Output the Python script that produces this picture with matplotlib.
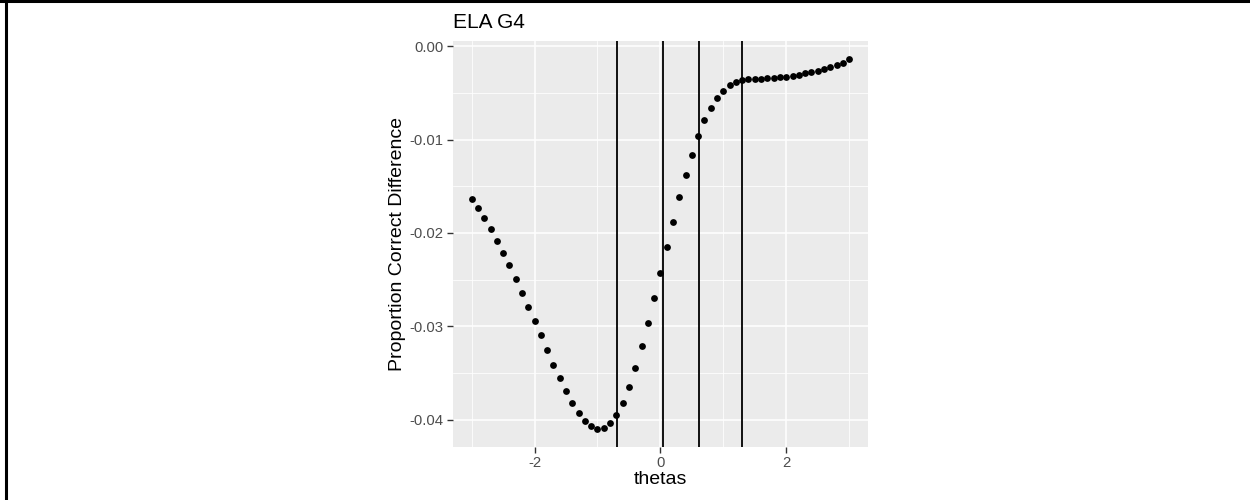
import numpy as np
import matplotlib
matplotlib.use("Agg")
import matplotlib.pyplot as plt
from matplotlib.ticker import MultipleLocator, FixedLocator, FuncFormatter
from matplotlib.lines import Line2D

plt.rcParams['font.family'] = ['Liberation Sans', 'DejaVu Sans']

title = "ELA G4"
thetas = np.round(np.arange(-3.0, 3.05, 0.1), 1)
prop_diff = [
    -0.01636, -0.01736, -0.01843, -0.01957, -0.02082, -0.02210, -0.02346, -0.02488,
    -0.02638, -0.02788, -0.02941, -0.03094, -0.03255, -0.03408, -0.03554, -0.03690,
    -0.03815, -0.03922, -0.04007, -0.04068, -0.04093, -0.04082, -0.04039, -0.03947,
    -0.03818, -0.03647, -0.03444, -0.03212, -0.02959, -0.02695, -0.02424, -0.02153,
    -0.01886, -0.01618, -0.01383, -0.01162, -0.00963, -0.00795, -0.00663, -0.00560,
    -0.00481, -0.00421, -0.00389, -0.00367, -0.00357, -0.00353, -0.00349, -0.00346,
    -0.00342, -0.00335, -0.00328, -0.00317, -0.00307, -0.00292, -0.00278, -0.00264,
    -0.00246, -0.00228, -0.00207, -0.00185, -0.00143,
]
cut_scores = [-0.683, 0.042, 0.62, 1.295]

fig = plt.figure(figsize=(12.5, 5), dpi=100)
ax = fig.add_axes([0.3622, 0.106, 0.3322, 0.812])
ax.set_facecolor('#EBEBEB')

ax.scatter(thetas, prop_diff, s=24, color='black', zorder=3, linewidths=0)
for c in cut_scores:
    ax.axvline(c, color='black', lw=1.3, zorder=2)

# ggplot-style 5% expansion
xr = max(thetas) - min(thetas)
ax.set_xlim(min(thetas) - 0.05 * xr, max(thetas) + 0.05 * xr)
yr = max(prop_diff) - min(prop_diff)
ax.set_ylim(min(prop_diff) - 0.05 * yr, max(prop_diff) + 0.05 * yr)

ax.xaxis.set_major_locator(FixedLocator([-2, 0, 2]))
ax.xaxis.set_minor_locator(FixedLocator([-3, -1, 1, 3]))
ax.yaxis.set_major_locator(MultipleLocator(0.01))
ax.yaxis.set_minor_locator(MultipleLocator(0.005))
ax.yaxis.set_major_formatter(FuncFormatter(lambda v, p: f"{v:.2f}" if abs(v) > 1e-9 else "0.00"))
ax.xaxis.set_major_formatter(FuncFormatter(lambda v, p: f"{v:g}"))

ax.grid(which='major', color='white', lw=1.1, zorder=0)
ax.grid(which='minor', color='white', lw=0.55, zorder=0)
ax.set_axisbelow(True)
for s in ax.spines.values():
    s.set_visible(False)
ax.tick_params(which='major', length=4, width=1, color='#333333', labelsize=10.7,
               labelcolor='#4D4D4D', pad=2.5)
ax.tick_params(which='minor', length=0)

ax.set_xlabel("thetas", fontsize=14, labelpad=1)
ax.set_ylabel("Proportion Correct Difference", fontsize=14, labelpad=3)
ax.set_title(title, loc='left', fontsize=15, pad=9)

# border lines on the left and top edges
fig.add_artist(Line2D([0.0048, 0.0048], [0, 1], transform=fig.transFigure, color='black', lw=2.2))
fig.add_artist(Line2D([0, 1], [0.998, 0.998], transform=fig.transFigure, color='black', lw=2.2))

fig.savefig("out.png", dpi=100)
